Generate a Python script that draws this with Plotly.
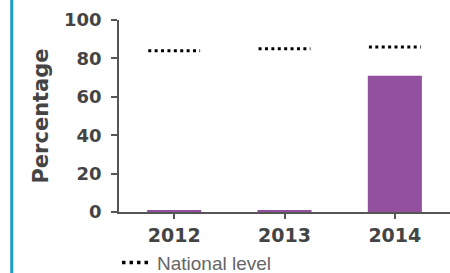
import plotly.graph_objects as go

years = ["2012", "2013", "2014"]
pct_values = [1, 1, 71]
national_level = [84, 85, 86]
y_ticks = [0, 20, 40, 60, 80, 100]

idx = list(range(len(years)))
half = 0.235

nat_x, nat_y = [], []
for i, v in zip(idx, national_level):
    nat_x += [i - half, i + half, None]
    nat_y += [v, v, None]

fig = go.Figure()
fig.add_trace(go.Bar(
    x=idx, y=pct_values, width=0.49,
    marker=dict(color="#93509f", line=dict(width=0)),
    showlegend=False, hoverinfo="skip",
))
fig.add_trace(go.Scatter(
    x=nat_x, y=nat_y, mode="lines", name="National level",
    line=dict(color="black", width=3, dash="3px,3.4px"),
    showlegend=False, hoverinfo="skip",
))
# legend-only entry for the national level
fig.add_trace(go.Scatter(
    x=[None], y=[None], mode="lines", name="National level",
    line=dict(color="black", width=3.5, dash="3.5px,4px"),
    showlegend=True, hoverinfo="skip",
))

bold_font = "DejaVu Sans, sans-serif"
fig.update_layout(
    width=450, height=273,
    margin=dict(l=119, r=0, t=20, b=61, autoexpand=False),
    paper_bgcolor="white", plot_bgcolor="white",
    font=dict(family="Liberation Sans, Arial, sans-serif", color="#444"),
    xaxis=dict(
        range=[-0.5, 2.5], tickvals=idx, ticktext=years,
        showgrid=False, zeroline=False,
        showline=True, linecolor="#555", linewidth=1.5,
        ticks="outside", ticklen=5, tickcolor="#555", tickwidth=1.5,
        tickfont=dict(size=19, color="#444", weight="bold", family=bold_font),
        ticklabelstandoff=0,
    ),
    yaxis=dict(
        range=[0, 100], tickvals=y_ticks,
        showgrid=False, zeroline=False,
        showline=True, linecolor="#555", linewidth=1.5,
        ticks="outside", ticklen=6, tickcolor="#555", tickwidth=1.5,
        tickfont=dict(size=18, color="#444", weight="bold", family=bold_font),
        ticklabelstandoff=6,
        title=dict(text="Percentage", font=dict(size=21, color="#444", weight="bold", family=bold_font), standoff=10),
    ),
    legend=dict(
        orientation="h", x=-0.006, xanchor="left",
        y=-0.165, yanchor="top",
        font=dict(size=19, color="#666"), bgcolor="rgba(0,0,0,0)",
        itemwidth=30,
    ),
    shapes=[dict(
        type="line", xref="paper", yref="paper",
        x0=-0.324, x1=-0.324, y0=-0.35, y1=1.15,
        line=dict(color="#1a9bc8", width=3),
    )],
)

fig.write_html(
    "out.html",
    config={"displayModeBar": False},
    post_script="document.body.style.margin='0';document.body.style.overflow='hidden';",
)
